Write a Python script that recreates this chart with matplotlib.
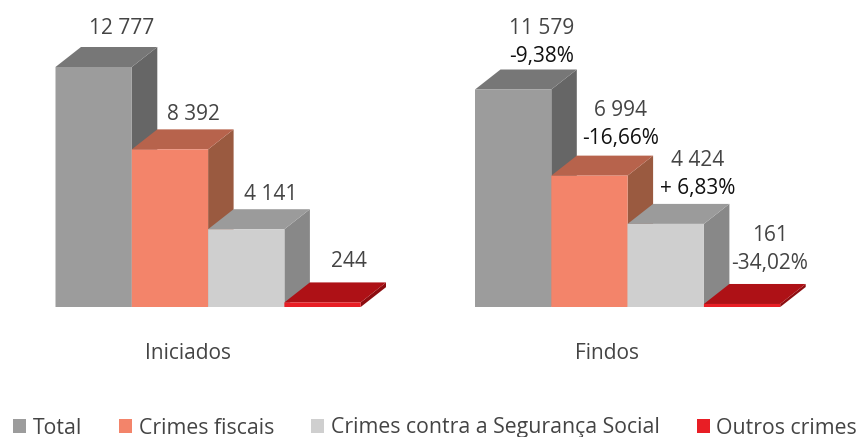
import matplotlib
matplotlib.use("Agg")
import matplotlib.pyplot as plt
from matplotlib.patches import Patch, Polygon

plt.rcParams.update({"font.family": ["Open Sans", "DejaVu Sans"], "font.size": 12})

categorias = ["Total", "Crimes fiscais", "Crimes contra a Segurança Social", "Outros crimes"]
iniciados = [12777, 8392, 4141, 244]
findos = [11579, 6994, 4424, 161]
iniciados_txt = ["12 777", "8 392", "4 141", "244"]
findos_txt = ["11 579", "6 994", "4 424", "161"]
variacao_txt = ["-9,38%", "-16,66%", "+ 6,83%", "-34,02%"]

C_FRENTE = ["#9c9c9c", "#f3846a", "#cfcfcf", "#e81e25"]
C_TOPO = ["#777777", "#b7634c", "#9b9b9b", "#ae1116"]
C_LADO = ["#666666", "#9a5a40", "#888888", "#8c0d10"]
C_TEXTO = "#444444"

W, H = 859, 437
ESC = 240 / 12777   # px por unidade
BW = 76.3           # largura da barra em px
DX, DY = 25.5, 20   # profundidade 3D em px
BASE = 307
FS = 15


def painel(x0, valores, nome, dx_nome):
    ax = fig.add_axes([x0 / W, 1 - BASE / H, (4 * BW + DX) / W, BASE / H])
    ax.set_xlim(-0.5, 3.5 + DX / BW)
    ax.set_ylim(0, BASE / ESC)
    ddx, ddy = DX / BW, DY / ESC
    ax.bar(range(4), valores, width=1.0, color=C_FRENTE, linewidth=0, zorder=4, snap=False)
    for i, v in enumerate(valores):
        l, r = i - 0.5, i + 0.5
        ax.add_patch(Polygon([(l, v), (r, v), (r + ddx, v + ddy), (l + ddx, v + ddy)],
                             color=C_TOPO[i], lw=0, zorder=3 - i * 0.1))
        ax.add_patch(Polygon([(r, 0), (r, v), (r + ddx, v + ddy), (r + ddx, ddy)],
                             color=C_LADO[i], lw=0, zorder=1.5 - i * 0.1))
    ax.set_xticks([1.5 + dx_nome / BW])
    ax.set_xticklabels([nome], fontsize=15, color=C_TEXTO)
    ax.tick_params(axis="x", length=0, pad=26)
    ax.set_yticks([])
    for s in ax.spines.values():
        s.set_visible(False)
    ax.patch.set_alpha(0)
    return ax


fig = plt.figure(figsize=(W / 100, H / 100), dpi=100, facecolor="white")

ax1 = painel(55.5, iniciados, "Iniciados", -20)
off_ini = [38, 35, 35, 41]
off_x_ini = [28, 23, 24, 26]
for i, v in enumerate(iniciados):
    ax1.text(i + off_x_ini[i] / BW, v + off_ini[i] / ESC, iniciados_txt[i], ha="center", va="center",
             fontsize=FS, color=C_TEXTO)

ax2 = painel(475, findos, "Findos", -21)
off_val = [61, 65, 63, 68]
off_x = [28, 31, 32, 28]
for i, v in enumerate(findos):
    ax2.text(i + off_x[i] / BW, v + off_val[i] / ESC, findos_txt[i], ha="center", va="center",
             fontsize=FS, color=C_TEXTO)
    ax2.text(i + off_x[i] / BW, v + (off_val[i] - 28) / ESC, variacao_txt[i], ha="center", va="center",
             fontsize=FS, color=C_TEXTO if i == 3 else "#111111")

handles = [Patch(color=c, lw=0) for c in C_FRENTE]
fig.legend(handles, categorias, loc="center", bbox_to_anchor=(435 / W, 1 - 428 / H), ncol=4,
           frameon=False, fontsize=15.3, labelcolor=C_TEXTO, handlelength=0.62, handleheight=0.62,
           handletextpad=0.3, columnspacing=1.75, borderpad=0, borderaxespad=0)

fig.savefig("out.png", dpi=100, facecolor="white")
